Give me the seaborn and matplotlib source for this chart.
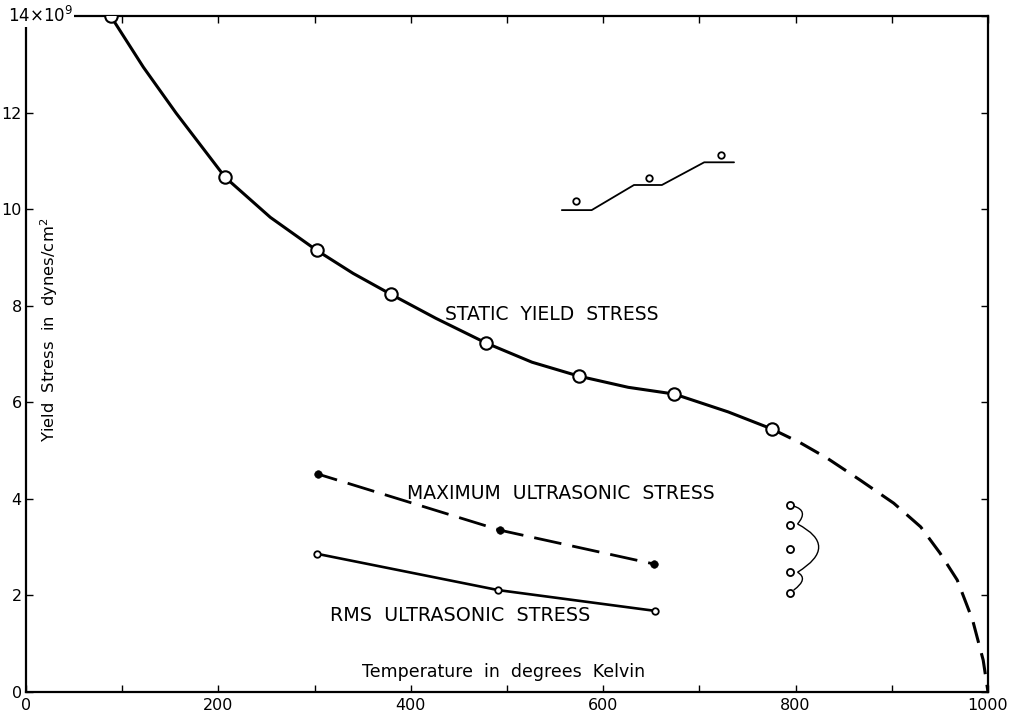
"""
Yield stress vs temperature: static yield stress curve with the
maximum and RMS ultrasonic stress, redrawn from a scanned figure.
"""
import numpy as np
import matplotlib
matplotlib.use("Agg")
import matplotlib.pyplot as plt
from matplotlib.path import Path
from matplotlib.patches import PathPatch
import seaborn as sns

# --- data (temperature K, stress 1e9 dyn/cm^2) ---
static_temp = [88, 207, 302, 379, 478, 575, 674, 775]
static_stress = [14.0, 10.66, 9.15, 8.24, 7.23, 6.54, 6.17, 5.45]

static_curve_temp = [88, 122, 156, 207, 254, 302, 340, 379, 426, 478, 526, 575, 626, 674, 730, 775]
static_curve_stress = [14.0, 12.94, 11.99, 10.66, 9.83, 9.15, 8.67, 8.24, 7.74, 7.23, 6.83,
                       6.54, 6.31, 6.17, 5.80, 5.45]

# traced along the dashed extrapolation
extrap_temp = [775, 805, 833, 867, 902, 930, 950, 968, 984, 995, 1000]
extrap_stress = [5.45, 5.16, 4.84, 4.39, 3.91, 3.42, 2.88, 2.32, 1.49, 0.66, 0.0]

max_temp = [304, 493, 653]
max_stress = [4.51, 3.35, 2.65]

rms_temp = [303, 491, 654]
rms_stress = [2.86, 2.11, 1.68]

# step sketch in the upper right
step_line_temp = [557, 588, 632, 661, 705, 736]
step_line_stress = [9.98, 9.98, 10.50, 10.50, 10.97, 10.97]
step_dot_temp = [572, 648, 722]
step_dot_stress = [10.17, 10.64, 11.12]

# bracket sketch
bracket_dot_temp = [794, 794, 794, 794, 794]
bracket_dot_stress = [3.87, 3.46, 2.96, 2.48, 2.05]
# each arc: start, point on the arc, end
bracket_arcs = [
    [(798, 3.85), (807, 3.71), (802, 3.48)],
    [(802, 3.48), (824, 3.00), (802, 2.48)],
    [(802, 2.48), (807, 2.32), (798, 2.11)],
]

x_ticks = list(range(0, 1001, 100))
x_tick_labels = [str(t) if t % 200 == 0 else "" for t in x_ticks]
y_ticks = list(range(0, 15, 2))
y_tick_labels = ["0", "2", "4", "6", "8", "10", "12", ""]

sns.set_style("ticks")
plt.rcParams["font.family"] = ["DejaVu Sans"]
plt.rcParams["text.color"] = "black"

fig = plt.figure(figsize=(10.13, 7.16), dpi=100)
ax = fig.add_axes([26 / 1013, 24 / 716, 962 / 1013, 676 / 716])

# curves
sns.lineplot(x=static_curve_temp, y=static_curve_stress, sort=False, estimator=None,
             color="black", lw=2.2, ax=ax)
sns.lineplot(x=extrap_temp, y=extrap_stress, sort=False, estimator=None,
             color="black", lw=2.2, linestyle=(0, (7, 3.5)), ax=ax)
sns.lineplot(x=max_temp, y=max_stress, sort=False, estimator=None,
             color="black", lw=2.0, linestyle=(3, (10, 4)), ax=ax)
sns.lineplot(x=rms_temp, y=rms_stress, sort=False, estimator=None,
             color="black", lw=1.9, ax=ax)

# markers
sns.scatterplot(x=static_temp, y=static_stress, s=80, facecolor="white",
                edgecolor="black", linewidth=1.5, zorder=5, ax=ax)
sns.scatterplot(x=max_temp, y=max_stress, s=30, color="black",
                edgecolor="black", zorder=5, ax=ax)
sns.scatterplot(x=rms_temp, y=rms_stress, s=22, facecolor="white",
                edgecolor="black", linewidth=1.3, zorder=5, ax=ax)

# step sketch
sns.lineplot(x=step_line_temp, y=step_line_stress, sort=False, estimator=None,
             color="black", lw=1.3, ax=ax)
sns.scatterplot(x=step_dot_temp, y=step_dot_stress, s=22, facecolor="white",
                edgecolor="black", linewidth=1.3, ax=ax)

# bracket sketch
sns.scatterplot(x=bracket_dot_temp, y=bracket_dot_stress, s=26, facecolor="white",
                edgecolor="black", linewidth=1.3, ax=ax)
for start, mid, end in bracket_arcs:
    p0, p1, p2 = np.array(start), np.array(mid), np.array(end)
    ctrl = 2 * p1 - 0.5 * (p0 + p2)
    path = Path([p0, ctrl, p2], [Path.MOVETO, Path.CURVE3, Path.CURVE3])
    ax.add_patch(PathPatch(path, facecolor="none", edgecolor="black", lw=1.0))

# labels inside the frame
ax.text(546, 7.81, "STATIC  YIELD  STRESS", fontsize=13.5, ha="center", va="center")
ax.text(556, 4.12, "MAXIMUM  ULTRASONIC  STRESS", fontsize=13.5, ha="center", va="center")
ax.text(451, 1.59, "RMS  ULTRASONIC  STRESS", fontsize=13.8, ha="center", va="center")
ax.text(496, 0.41, "Temperature  in  degrees  Kelvin", fontsize=12.5, ha="center", va="center")
ax.text(24, 7.5, "Yield  Stress  in  dynes/cm$^2$", fontsize=11.8, rotation=90,
        ha="center", va="center")

ax.set_xlim(0, 1000)
ax.set_ylim(0, 14)
ax.set_xticks(x_ticks)
ax.set_xticklabels(x_tick_labels)
ax.set_yticks(y_ticks)
ax.set_yticklabels(y_tick_labels)
ax.tick_params(direction="in", top=True, right=True, length=5, width=1,
               labelsize=11.5, colors="black")
ax.tick_params(axis="x", pad=4)
ax.tick_params(axis="y", pad=3)
ax.annotate("14$\\times$10$^9$", xy=(0, 14), xycoords=("axes fraction", "data"),
            xytext=(-13, 0), textcoords="offset points", ha="left", va="center",
            fontsize=12, annotation_clip=False,
            bbox=dict(facecolor="white", edgecolor="none", pad=0.5), zorder=10)
for side in ax.spines.values():
    side.set_linewidth(1.6)
    side.set_color("black")

fig.savefig("out.png", dpi=100)
